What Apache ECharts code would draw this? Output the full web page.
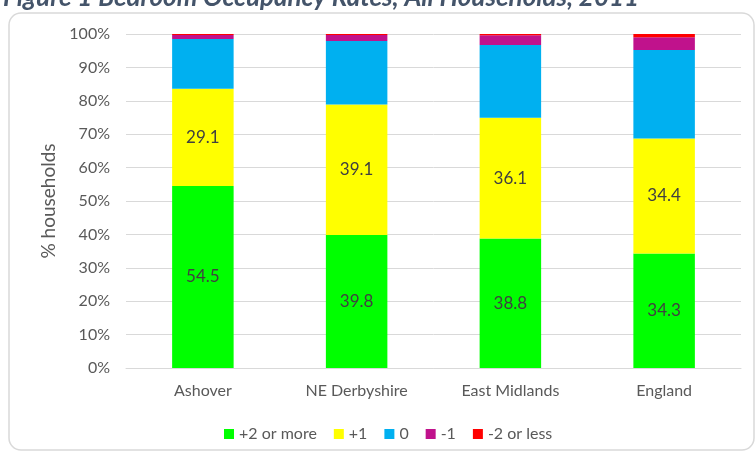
<!DOCTYPE html>
<html>
<head>
<meta charset="utf-8">
<script src="https://cdn.jsdelivr.net/npm/echarts@6/dist/echarts.min.js"></script>
<style>
  html, body { margin: 0; padding: 0; background: #fff; }
  #chart { width: 756px; height: 455px; }
</style>
</head>
<body>
<div id="chart"></div>
<script>
const areas = ['Ashover', 'NE Derbyshire', 'East Midlands', 'England']
const plus2 = [54.5, 39.8, 38.8, 34.3]
const plus1 = [29.1, 39.1, 36.1, 34.4]
const zero = [14.9, 19.0, 21.8, 26.5]
const minus1 = [1.2, 1.8, 2.9, 3.8]
const minus2 = [0.3, 0.3, 0.4, 1.0]

const textGray = '#595959'
const font = 'Lato, "Open Sans", sans-serif'

const chart = echarts.init(document.getElementById('chart'))

const mk = (name, data, color, showLabel) => ({
  name,
  type: 'bar',
  stack: 'total',
  barWidth: '40%',
  data,
  itemStyle: { color },
  label: {
    show: showLabel,
    position: 'inside',
    color: '#404040',
    fontSize: 17,
    fontFamily: font,
    formatter: p => p.value.toFixed(1)
  }
})

const option = {
  animation: false,
  textStyle: { fontFamily: font },
  graphic: [
    {
      type: 'text',
      left: 3,
      top: -15,
      style: {
        text: 'Figure 1 Bedroom Occupancy Rates, All Households, 2011',
        fontFamily: font,
        fontWeight: 'bold',
        fontStyle: 'italic',
        fontSize: 26,
        fill: '#44546A'
      }
    },
    {
      type: 'rect',
      shape: { x: 9, y: 13, width: 745, height: 437, r: 12 },
      style: { fill: 'none', stroke: '#d9d9d9', lineWidth: 1.5 },
      silent: true
    }
  ],
  grid: { left: 126, right: 15, top: 34, bottom: 87 },
  legend: {
    left: 219,
    top: 421,
    itemWidth: 10,
    itemHeight: 10,
    itemGap: 17,
    icon: 'rect',
    textStyle: { color: textGray, fontSize: 16, fontFamily: font },
    data: ['+2 or more', '+1', '0', '-1', '-2 or less']
  },
  xAxis: {
    type: 'category',
    data: areas,
    axisTick: { show: false },
    axisLine: { lineStyle: { color: '#d9d9d9', width: 1 } },
    axisLabel: { color: textGray, fontSize: 16, margin: 15, fontFamily: font }
  },
  yAxis: {
    type: 'value',
    min: 0,
    max: 100,
    interval: 10,
    name: '% households',
    nameLocation: 'middle',
    nameGap: 68,
    nameTextStyle: { color: textGray, fontSize: 19, fontFamily: font },
    axisLine: { show: false },
    axisTick: { show: false },
    axisLabel: { color: textGray, fontSize: 16, margin: 16, fontFamily: font, formatter: '{value}%' },
    splitLine: { lineStyle: { color: '#d9d9d9', width: 1 } }
  },
  series: [
    mk('+2 or more', plus2, '#00FF00', true),
    mk('+1', plus1, '#FFFF00', true),
    mk('0', zero, '#00B0F0', false),
    mk('-1', minus1, '#C0128C', false),
    mk('-2 or less', minus2, '#FF0000', false)
  ]
}
chart.setOption(option)
</script>
</body>
</html>
